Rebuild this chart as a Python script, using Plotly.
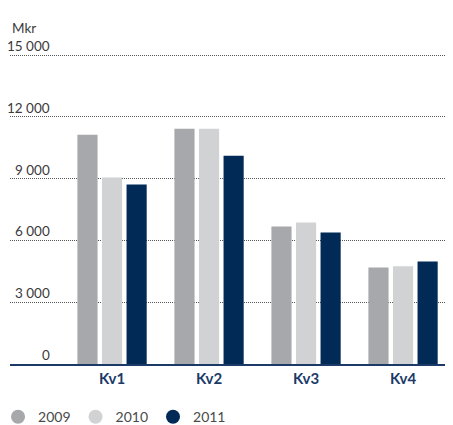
import plotly.graph_objs as go

# Quarterly values, Mkr
quarters = ["Kv1", "Kv2", "Kv3", "Kv4"]
years = ["2009", "2010", "2011"]
values_2009 = [11130, 11420, 6680, 4690]
values_2010 = [9050, 11420, 6870, 4740]
values_2011 = [8710, 10110, 6390, 4980]
y_ticks = [0, 3000, 6000, 9000, 12000, 15000]
y_tick_labels = ["0", "3 000", "6 000", "9 000", "12 000", "15 000"]

colors = ["#a7a8ab", "#d1d2d4", "#012a57"]
NAVY = "#1b3a68"
TEXT = "#3a3a3a"
FONT = "Lato"


def __create_fig():
    fig = go.Figure()
    for year, vals, color in zip(years, [values_2009, values_2010, values_2011], colors):
        fig.add_trace(
            go.Bar(
                x=quarters,
                y=vals,
                name=year,
                marker=dict(color=color, line=dict(width=0)),
                showlegend=False,
            )
        )
        # legend entry with a round symbol
        fig.add_trace(
            go.Scatter(
                x=[None],
                y=[None],
                mode="markers",
                name=year,
                marker=dict(symbol="circle", size=14, color=color),
            )
        )
    return fig


def __add_labels(fig):
    # y tick labels sit above the dotted gridlines, right aligned
    for val, label in zip(y_ticks, y_tick_labels):
        fig.add_annotation(
            x=0.095,
            xref="paper",
            y=val,
            yref="y",
            text=label,
            showarrow=False,
            xanchor="right",
            yanchor="bottom",
            yshift=-1,
            font=dict(family=FONT, size=13.5, color=TEXT),
        )
    fig.add_annotation(
        x=0,
        xref="paper",
        y=1.085,
        yref="paper",
        text="Mkr",
        showarrow=False,
        xanchor="left",
        yanchor="middle",
        font=dict(family=FONT, size=13.5, color=TEXT),
    )


def __style(fig):
    # the page body adds an 8px offset, so the figure is 8px smaller than the window
    fig.update_layout(
        width=445,
        height=417,
        plot_bgcolor="white",
        paper_bgcolor="white",
        barmode="group",
        bargap=0.24,
        bargroupgap=0.18,
        margin=dict(l=2, r=0, t=46, b=61, autoexpand=False),
        font=dict(family=FONT, color=TEXT),
        legend=dict(
            orientation="h",
            x=-0.027,
            xanchor="left",
            y=-0.12,
            yanchor="top",
            font=dict(family=FONT, size=14, color="#4a4a4a"),
            itemclick=False,
        ),
    )
    fig.update_xaxes(
        range=[-1.052, 3.515],
        showgrid=False,
        zeroline=False,
        showline=True,
        linecolor=NAVY,
        linewidth=2,
        ticks="",
        tickfont=dict(family=FONT, size=15, color=NAVY, weight="bold"),
    )
    fig.update_yaxes(
        range=[0, 15050],
        tickvals=y_ticks,
        showticklabels=False,
        showgrid=True,
        gridcolor="#555555",
        griddash="1px,1px",
        gridwidth=1,
        zeroline=False,
        showline=False,
    )


fig = __create_fig()
__add_labels(fig)
__style(fig)
fig.write_html("out.html")
